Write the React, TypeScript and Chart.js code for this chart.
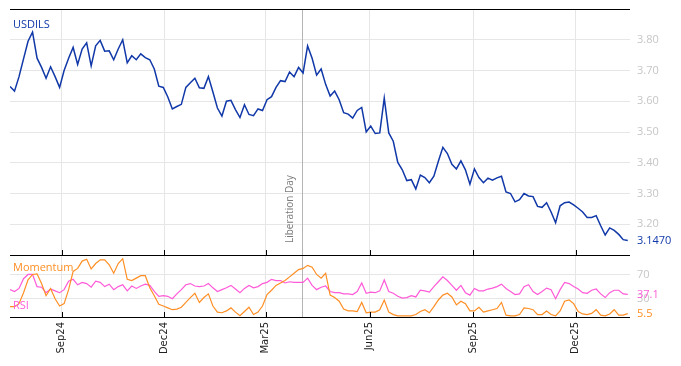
import React, { useEffect, useRef } from 'react';
import { Chart, registerables } from 'chart.js';

Chart.register(...registerables);

// x positions are day offsets from 2024-07-15
const FIRST_DAY = 2;
const STEP_DAYS = 4;
const X_MIN = 2;
const X_MAX = 552;
const TICK_DAYS = [48, 139, 229, 321, 413, 504];
const TICK_LABELS = ['Sep24', 'Dec24', 'Mar25', 'Jun25', 'Sep25', 'Dec25'];
const EVENT_DAY = 261;
const EVENT_LABEL = 'Liberation Day';
const PRICE_TICKS = [3.2, 3.3, 3.4, 3.5, 3.6, 3.7, 3.8];
const OSC_TICKS = [30, 70];
const SERIES_NAME = 'USDILS';

const usdils = [
  3.648, 3.633, 3.680, 3.738, 3.795, 3.825, 3.740, 3.710, 3.675, 3.712,
  3.680, 3.645, 3.700, 3.740, 3.775, 3.720, 3.770, 3.790, 3.715, 3.780,
  3.798, 3.763, 3.764, 3.735, 3.770, 3.800, 3.725, 3.748, 3.735, 3.754,
  3.742, 3.735, 3.705, 3.649, 3.645, 3.614, 3.575, 3.583, 3.590, 3.645,
  3.660, 3.675, 3.644, 3.642, 3.680, 3.630, 3.578, 3.552, 3.600, 3.603,
  3.573, 3.547, 3.589, 3.557, 3.553, 3.575, 3.570, 3.605, 3.615, 3.645,
  3.667, 3.664, 3.695, 3.680, 3.710, 3.692, 3.780, 3.740, 3.685, 3.705,
  3.655, 3.617, 3.633, 3.605, 3.563, 3.558, 3.545, 3.570, 3.580, 3.500,
  3.519, 3.495, 3.497, 3.610, 3.497, 3.470, 3.401, 3.377, 3.342, 3.345,
  3.315, 3.360, 3.352, 3.335, 3.356, 3.405, 3.450, 3.430, 3.395, 3.380,
  3.406, 3.377, 3.330, 3.380, 3.352, 3.335, 3.350, 3.343, 3.351, 3.356,
  3.305, 3.300, 3.273, 3.280, 3.300, 3.292, 3.290, 3.258, 3.255, 3.270,
  3.240, 3.205, 3.260, 3.270, 3.272, 3.263, 3.252, 3.240, 3.222, 3.222,
  3.228, 3.195, 3.165, 3.188, 3.180, 3.167, 3.150, 3.147,
];

const momentum = [
  17, 17, 22, 40, 61, 70, 71, 55, 35, 47,
  30, 18, 22, 45, 75, 80, 92, 95, 79, 88,
  94, 94, 86, 72, 88, 96, 62, 60, 64, 68,
  68, 48, 35, 21, 18, 15, 12, 13, 16, 24,
  32, 39, 24, 32, 38, 18, 8, 7, 10, 15,
  8, 2, 9, 16, 4, 8, 18, 37, 44, 52,
  56, 60, 66, 72, 78, 80, 85, 82, 70, 64,
  72, 36, 32, 26, 13, 10, 10, 9, 24, 7,
  8, 8, 12, 28, 8, 4, 2, 2, 2, 2,
  4, 9, 12, 7, 17, 28, 36, 39, 33, 20,
  26, 22, 10, 10, 16, 8, 10, 12, 14, 24,
  3, 2, 2, 4, 15, 14, 12, 4, 4, 10,
  4, 2, 10, 26, 28, 22, 9, 5, 4, 6,
  12, 3, 2, 5, 12, 3, 3, 5.5,
];

const rsi = [
  45, 42, 47, 63, 70, 70, 50, 49, 40, 46,
  43, 40, 45, 59, 62, 53, 57, 55, 49, 59,
  57, 50, 54, 45, 50, 53, 43, 51, 47, 51,
  54, 52, 42, 34, 35, 34, 30, 38, 45, 53,
  55, 51, 50, 51, 55, 48, 42, 45, 48, 52,
  46, 40, 47, 52, 48, 50, 55, 57, 62, 60,
  60, 56, 58, 57, 57, 57, 64, 52, 45, 49,
  51, 42, 40, 40, 38, 38, 37, 42, 56, 39,
  41, 40, 43, 61, 42, 39, 34, 31, 32, 35,
  33, 44, 43, 41, 50, 58, 66, 60, 52, 44,
  52, 40, 36, 47, 43, 43, 46, 47.5, 50, 54,
  47, 42, 37, 38, 50, 53, 42, 37, 42, 47.5,
  45, 30, 45, 57, 55, 50, 46, 40, 39, 44,
  46, 38, 32, 40, 44, 44, 38, 37.1,
];

const PRICE_COLOR = '#1038a8';
const MOM_COLOR = '#ff8f24';
const RSI_COLOR = '#ff5ad8';
const GRID_COLOR = '#e6e6e6';
const TICK_TEXT = '#c6c6c6';
const FONT = '"Open Sans", "DejaVu Sans", sans-serif';

const days = usdils.map((_, i) => FIRST_DAY + i * STEP_DAYS);
const toPoints = (arr: number[]) => arr.map((v, i) => ({ x: days[i], y: v }));

const noPad = (axis: any) => {
  axis.paddingTop = 0;
  axis.paddingBottom = 0;
  axis.paddingLeft = 0;
  axis.paddingRight = 0;
};

const overlayPlugin = {
  id: 'overlay',
  beforeDatasetsDraw(chart: any) {
    const { ctx, chartArea, scales } = chart;
    const x = Math.round(scales.x.getPixelForValue(EVENT_DAY)) + 0.5;
    ctx.save();
    ctx.strokeStyle = '#b4b4b4';
    ctx.lineWidth = 1;
    ctx.beginPath();
    ctx.moveTo(x, chartArea.top);
    ctx.lineTo(x, chartArea.bottom);
    ctx.stroke();
    ctx.translate(x - 12, scales.y.bottom - 12);
    ctx.rotate(-Math.PI / 2);
    ctx.font = `10px ${FONT}`;
    ctx.fillStyle = '#7a7a7a';
    ctx.textAlign = 'left';
    ctx.textBaseline = 'middle';
    ctx.fillText(EVENT_LABEL, 0, 0);
    ctx.restore();
  },
  afterDraw(chart: any) {
    const { ctx, chartArea, scales } = chart;
    const split = Math.round(scales.y.bottom);
    const top = Math.round(chartArea.top);
    const bottom = Math.round(chartArea.bottom);
    ctx.save();
    ctx.strokeStyle = '#000';
    ctx.lineWidth = 1;
    ctx.beginPath();
    for (const yy of [top, split, bottom]) {
      ctx.moveTo(chartArea.left, yy + 0.5);
      ctx.lineTo(chartArea.right, yy + 0.5);
    }
    for (const d of TICK_DAYS) {
      const tx = Math.round(scales.x.getPixelForValue(d)) + 0.5;
      ctx.moveTo(tx, split + 0.5);
      ctx.lineTo(tx, split - 5);
      ctx.moveTo(tx, bottom + 0.5);
      ctx.lineTo(tx, bottom - 5);
    }
    ctx.stroke();

    ctx.font = `11px ${FONT}`;
    ctx.textAlign = 'left';
    ctx.textBaseline = 'middle';
    ctx.fillStyle = PRICE_COLOR;
    ctx.fillText(SERIES_NAME, chartArea.left + 3, chartArea.top + 16);
    ctx.fillStyle = MOM_COLOR;
    ctx.fillText('Momentum', chartArea.left + 3, split + 13);
    ctx.fillStyle = RSI_COLOR;
    ctx.fillText('RSI', chartArea.left + 3, split + 51);

    const rx = chartArea.right + 7;
    const lastP = usdils[usdils.length - 1];
    const lastR = rsi[rsi.length - 1];
    const lastM = momentum[momentum.length - 1];
    ctx.fillStyle = PRICE_COLOR;
    ctx.fillText(lastP.toFixed(4), rx, scales.y.getPixelForValue(lastP));
    ctx.fillStyle = RSI_COLOR;
    ctx.fillText(lastR.toFixed(1), rx, scales.y2.getPixelForValue(lastR));
    ctx.fillStyle = MOM_COLOR;
    ctx.fillText(lastM.toFixed(1), rx, scales.y2.getPixelForValue(lastM));
    ctx.restore();
  },
};

export default function App() {
  const ref = useRef<HTMLCanvasElement | null>(null);

  useEffect(() => {
    if (!ref.current) return;
    const chart = new Chart(ref.current, {
      type: 'line',
      data: {
        datasets: [
          {
            label: SERIES_NAME,
            data: toPoints(usdils),
            yAxisID: 'y',
            borderColor: PRICE_COLOR,
            borderWidth: 1.5,
            pointRadius: 0,
            tension: 0,
          },
          {
            label: 'Momentum',
            data: toPoints(momentum),
            yAxisID: 'y2',
            borderColor: MOM_COLOR,
            borderWidth: 1.2,
            pointRadius: 0,
            tension: 0,
          },
          {
            label: 'RSI',
            data: toPoints(rsi),
            yAxisID: 'y2',
            borderColor: RSI_COLOR,
            borderWidth: 1.2,
            pointRadius: 0,
            tension: 0,
          },
        ],
      },
      options: {
        responsive: false,
        animation: false,
        layout: { padding: { left: 2, top: 1, right: 0, bottom: 0 } },
        plugins: { legend: { display: false }, tooltip: { enabled: false } },
        scales: {
          x: {
            type: 'linear',
            min: X_MIN,
            max: X_MAX,
            afterBuildTicks: (axis: any) => {
              axis.ticks = TICK_DAYS.map((v) => ({ value: v }));
            },
            afterFit: (axis: any) => {
              axis.height = 41;
              noPad(axis);
            },
            grid: { color: GRID_COLOR, drawTicks: false },
            border: { display: false },
            ticks: {
              autoSkip: false,
              minRotation: 90,
              maxRotation: 90,
              padding: 5,
              color: '#222',
              font: { family: '"DejaVu Sans", sans-serif', size: 10 },
              callback: (v: any) => {
                const idx = TICK_DAYS.indexOf(Number(v));
                return idx >= 0 ? TICK_LABELS[idx] : '';
              },
            },
          },
          y: {
            type: 'linear',
            position: 'right',
            stack: 'panels',
            stackWeight: 246,
            min: 3.1,
            max: 3.9,
            afterBuildTicks: (axis: any) => {
              axis.ticks = PRICE_TICKS.map((v) => ({ value: v }));
            },
            afterFit: (axis: any) => {
              axis.width = 43;
              noPad(axis);
            },
            grid: { color: GRID_COLOR, drawTicks: false },
            border: { display: false },
            ticks: {
              padding: 7,
              color: TICK_TEXT,
              font: { family: FONT, size: 11 },
              callback: (v: any) => Number(v).toFixed(2),
            },
          },
          y2: {
            type: 'linear',
            position: 'right',
            stack: 'panels',
            stackWeight: 62,
            min: 0,
            max: 102,
            afterBuildTicks: (axis: any) => {
              axis.ticks = OSC_TICKS.map((v) => ({ value: v }));
            },
            afterFit: (axis: any) => {
              axis.width = 43;
              noPad(axis);
            },
            grid: { color: GRID_COLOR, drawTicks: false },
            border: { display: false },
            ticks: {
              padding: 7,
              color: TICK_TEXT,
              font: { family: FONT, size: 11 },
              callback: (v: any) => String(v),
            },
          },
        },
      },
      plugins: [overlayPlugin],
    } as any);
    return () => chart.destroy();
  }, []);

  return (
    <canvas
      ref={ref}
      width={665}
      height={350}
      style={{ display: 'block', width: 665, height: 350 }}
    />
  );
}
